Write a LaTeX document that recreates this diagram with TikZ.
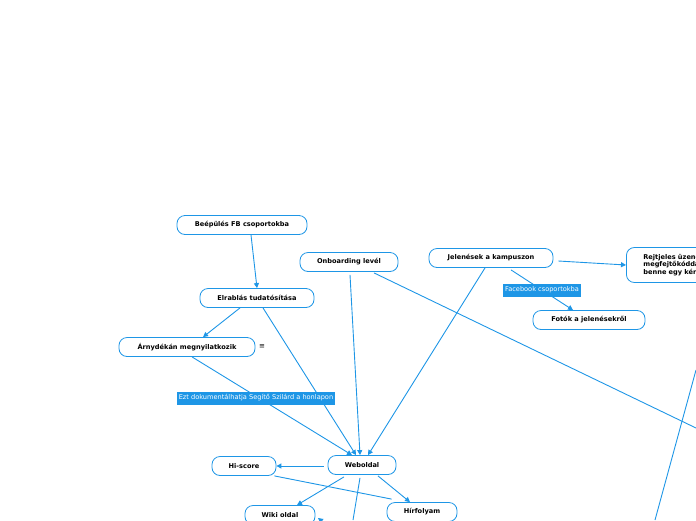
\documentclass[tikz,border=0pt]{standalone}
\usepackage{fontspec}
\setmainfont{DejaVu Sans}
\usetikzlibrary{arrows.meta,calc}
\definecolor{ln}{HTML}{1E96E6}
\begin{document}
\begin{tikzpicture}[x=1pt,y=-1pt,
  box/.style={draw=ln,line width=0.8pt,rounded corners=8pt,fill=white,minimum height=19pt,inner sep=1pt,font=\fontsize{6.6}{8}\selectfont\bfseries},
  lab/.style={fill=ln,text=white,inner sep=2pt,minimum height=13pt,font=\fontsize{6.6}{8}\selectfont},
  con/.style={draw=ln,line width=0.9pt},
  arr/.style={con,-{Triangle[length=5pt,width=5pt]}}]
\useasboundingbox (0,0) rectangle (696,520);
\clip (0,0) rectangle (696,520);
\coordinate (e1) at (696,428);
\coordinate (e2) at (353,520);
\coordinate (e3) at (696,370);
\coordinate (e4) at (655,520);
\coordinate (e5) at (322,520);
\node[box,minimum width=130pt] (fb) at (242,225) {Beépülés FB csoportokba};
\node[box,minimum width=114pt] (elr) at (257,298) {Elrablás tudatósítása};
\node[box,minimum width=136pt] (arny) at (187,347) {Árnydékán megnyilatkozik};
\node[font=\fontsize{7}{8}\selectfont] (menu) at (262,347) {≡};
\node[box,minimum width=98pt] (onb) at (349,262) {Onboarding levél};
\node[box,minimum width=124pt] (jel) at (491,258) {Jelenések a kampuszon};
\node[box,minimum width=112pt] (fot) at (589,320) {Fotók a jelenésekről};
\node[box,minimum width=68pt] (web) at (362,465) {Weboldal};
\node[box,minimum width=64pt] (hi) at (244,466) {Hi-score};
\node[box,minimum width=70pt] (wiki) at (280,515) {Wiki oldal};
\node[box,minimum width=70pt] (hir) at (422,512) {Hírfolyam};
\node[box,minimum width=120pt,minimum height=35pt,anchor=west,align=left,text width=110pt,font=\fontsize{6.6}{7.6}\selectfont\bfseries] (rej) at (626,265) {\hspace*{12pt}Rejtjeles üzenet,\\\hspace*{12pt}megfejtőkóddal,\\\hspace*{12pt}benne egy kérdés};
\draw[arr] (fb.south) ++(9,0) -- (elr.north);
\draw[arr] (elr.south) ++(-17,0) -- ($(arny.north)+(16,0)$);
\draw[arr] (arny.south) ++(5,0) -- ($(web.north)+(-10,0)$);
\draw[arr] (elr.south) ++(6,0) -- ($(web.north)+(-6,0)$);
\draw[arr] (onb.south) ++(1,3) -- ($(web.north)+(-2,0)$);
\draw[con] (onb.south) ++(25,1) -- (e1);
\draw[arr] (jel.south) ++(-6,0) -- ($(web.north)+(6,0)$);
\draw[arr] (jel.east) ++(5,3) -- (rej.west);
\draw[arr] (jel.south) ++(20,2) -- node[lab,pos=0.5] (fbl) {Facebook csoportokba} ($(fot.north)+(-16,0)$);
\draw[arr] (web.west) ++(-4,1) -- (hi.east);
\draw[con] (hi.south east) ++(-2,0) -- ($(hir.north west)+(5,-3)$);
\draw[arr] (web.south) ++(-18,2) -- ($(wiki.north)+(17,0)$);
\draw[arr] (web.south) ++(16,1) -- ($(hir.north)+(-12,0)$);
\draw[con] (web.south) ++(-2,3) -- (e2);
\draw[arr] (e5) ++(5,5) -- (318,518);
\draw[con] (e3) -- (e4);
\node[lab] (ezt) at (256,398) {Ezt dokumentálhatja Segítő Szilárd a honlapon};
\end{tikzpicture}
\end{document}
